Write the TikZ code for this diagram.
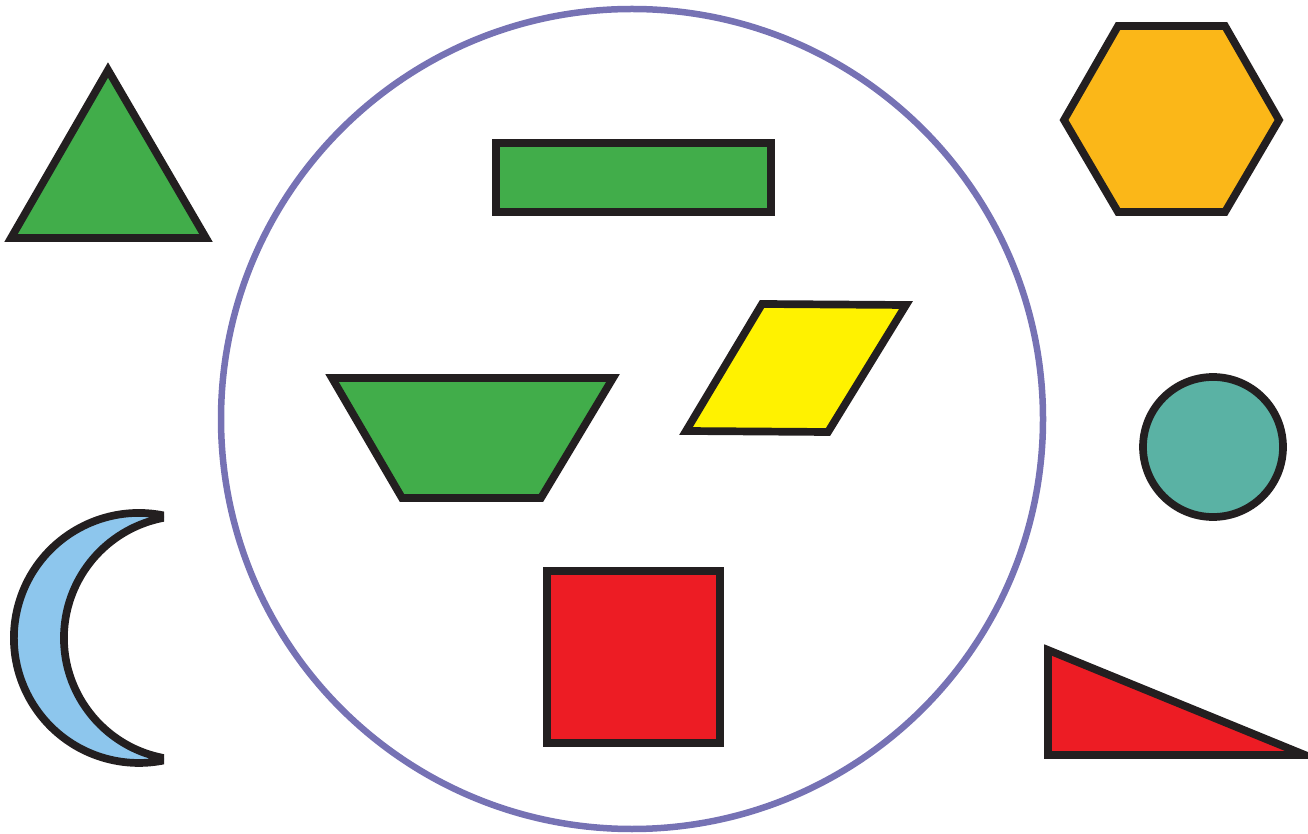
\documentclass[tikz,border=0pt]{standalone}
\definecolor{ink}{HTML}{231F20}
\definecolor{sgreen}{HTML}{41AD4A}
\definecolor{sorange}{HTML}{FBB718}
\definecolor{syellow}{HTML}{FFF200}
\definecolor{steal}{HTML}{5AB2A4}
\definecolor{sred}{HTML}{ED1C24}
\definecolor{sblue}{HTML}{8DC6ED}
\definecolor{spurple}{HTML}{7672B4}
\tikzset{
  shp/.style={draw=ink, line width=7.7pt, line join=miter},
}
\begin{document}
\begin{tikzpicture}[x=1pt,y=1pt]
\useasboundingbox (0,0) rectangle (1308,833);
% big circle
\draw[spurple, line width=6.5pt] (632,414) ellipse [x radius=411pt, y radius=410pt];
% green triangle
\draw[shp, fill=sgreen] (108,763) -- (11,595) -- (206,595) -- cycle;
% green rectangle
\draw[shp, fill=sgreen] (496,690) rectangle (771,621);
% hexagon
\draw[shp, fill=sorange] (1118,807) -- (1225,807) -- (1279,713) -- (1225,621) -- (1118,621) -- (1064,713) -- cycle;
% trapezoid
\draw[shp, fill=sgreen] (332,455) -- (613,455) -- (541,335) -- (402,335) -- cycle;
% parallelogram
\draw[shp, fill=syellow] (762,529) -- (906,528) -- (828,401) -- (686,402) -- cycle;
% teal circle
\draw[shp, fill=steal] (1213,386) circle [radius=70pt];
% red square
\draw[shp, fill=sred] (547,262) rectangle (720,90);
% right triangle
\draw[shp, fill=sred] (1048,183) -- (1048,78) -- (1305,78) -- cycle;
% crescent
\begin{scope}
\clip (0,0) rectangle (164,833);
\draw[shp, fill=sblue] (170,316.1) arc [start angle=75.6, end angle=284.4, radius=125pt]
  arc [start angle=262.4, end angle=97.6, radius=122.2pt] -- cycle;
\end{scope}
\end{tikzpicture}
\end{document}
